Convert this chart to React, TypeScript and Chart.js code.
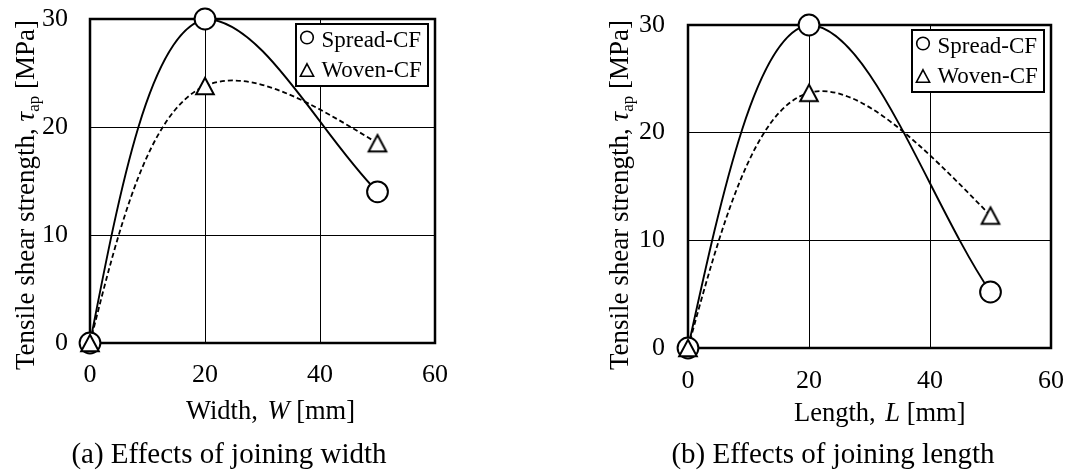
import React, { useEffect, useRef } from 'react';
import { Chart, registerables } from 'chart.js';

Chart.register(...registerables);

// ---------------- data ----------------
const xValues = [0, 20, 50];
const widthSpread = [0, 30, 14];
const widthWoven = [0, 23.8, 18.5];
const lengthSpread = [0, 30, 5.2];
const lengthWoven = [0, 23.7, 12.3];
const seriesNames = ['Spread-CF', 'Woven-CF'];
const xTickValues = [0, 20, 40, 60];
const yTickValues = [0, 10, 20, 30];
const xAxisNames = ['Width', 'Length'];
const xAxisSymbols = ['W', 'L'];
const panelCaptions = ['(a) Effects of joining width', '(b) Effects of joining length'];

// ---------------- styling / layout ----------------
const FONT = "'Liberation Serif', 'Times New Roman', serif";
const CW = 534;
const CH = 472;
const SOLID_ALPHA = 0.5;
const DASHED_ALPHA = 0.5;

type PanelCfg = {
  spread: number[];
  woven: number[];
  xName: string;
  xSym: string;
  caption: string;
  area: { left: number; top: number; right: number; bottom: number };
  yTickPad: number;
  xTickPad: number;
  yTitle: { x: number; y: number };
  xTitle: { x: number; y: number };
  captionPos: { cx: number; y: number };
};

const panels: PanelCfg[] = [
  {
    spread: widthSpread,
    woven: widthWoven,
    xName: xAxisNames[0],
    xSym: xAxisSymbols[0],
    caption: panelCaptions[0],
    area: { left: 90, top: 19, right: 435, bottom: 343 },
    yTickPad: 22,
    xTickPad: 17,
    yTitle: { x: 34, y: 370 },
    xTitle: { x: 186, y: 419 },
    captionPos: { cx: 229, y: 463 },
  },
  {
    spread: lengthSpread,
    woven: lengthWoven,
    xName: xAxisNames[1],
    xSym: xAxisSymbols[1],
    caption: panelCaptions[1],
    area: { left: 154, top: 25, right: 517, bottom: 348 },
    yTickPad: 23,
    xTickPad: 18,
    yTitle: { x: 94, y: 370 },
    xTitle: { x: 260, y: 421 },
    captionPos: { cx: 299, y: 463 },
  },
];

// ---------------- helpers ----------------
function makeTriangle(halfW: number, halfH: number, lw: number): HTMLCanvasElement {
  const c = document.createElement('canvas');
  const s = Math.ceil(2 * Math.max(halfW, halfH) + 4 * lw + 2);
  c.width = s;
  c.height = s;
  const g = c.getContext('2d')!;
  const cx = s / 2;
  const cy = s / 2;
  g.beginPath();
  g.moveTo(cx, cy - halfH);
  g.lineTo(cx + halfW, cy + halfH);
  g.lineTo(cx - halfW, cy + halfH);
  g.closePath();
  g.fillStyle = '#fff';
  g.fill();
  g.lineWidth = lw;
  g.lineJoin = 'miter';
  g.strokeStyle = '#000';
  g.stroke();
  return c;
}

// natural parametric cubic spline -> bezier control points
function naturalSplineControls(pts: { x: number; y: number }[], alpha: number) {
  const n = pts.length;
  const h: number[] = [];
  for (let i = 0; i < n - 1; i++) {
    const d = Math.hypot(pts[i + 1].x - pts[i].x, pts[i + 1].y - pts[i].y);
    h.push(Math.max(Math.pow(d, alpha), 1e-6));
  }
  const solve = (f: number[]) => {
    const M = new Array(n).fill(0);
    if (n < 3) return M;
    const m = n - 2;
    const a: number[] = [];
    const b: number[] = [];
    const c: number[] = [];
    const r: number[] = [];
    for (let k = 1; k <= n - 2; k++) {
      a.push(h[k - 1]);
      b.push(2 * (h[k - 1] + h[k]));
      c.push(h[k]);
      r.push(6 * ((f[k + 1] - f[k]) / h[k] - (f[k] - f[k - 1]) / h[k - 1]));
    }
    for (let i = 1; i < m; i++) {
      const w = a[i] / b[i - 1];
      b[i] -= w * c[i - 1];
      r[i] -= w * r[i - 1];
    }
    const sol = new Array(m).fill(0);
    sol[m - 1] = r[m - 1] / b[m - 1];
    for (let i = m - 2; i >= 0; i--) sol[i] = (r[i] - c[i] * sol[i + 1]) / b[i];
    for (let i = 0; i < m; i++) M[i + 1] = sol[i];
    return M;
  };
  const xs = pts.map((p) => p.x);
  const ys = pts.map((p) => p.y);
  const Mx = solve(xs);
  const My = solve(ys);
  const out = pts.map((p) => ({ cp1x: p.x, cp1y: p.y, cp2x: p.x, cp2y: p.y }));
  for (let i = 0; i < n - 1; i++) {
    const hi = h[i];
    const dx0 = (xs[i + 1] - xs[i]) / hi - (hi * (2 * Mx[i] + Mx[i + 1])) / 6;
    const dy0 = (ys[i + 1] - ys[i]) / hi - (hi * (2 * My[i] + My[i + 1])) / 6;
    const dx1 = (xs[i + 1] - xs[i]) / hi + (hi * (Mx[i] + 2 * Mx[i + 1])) / 6;
    const dy1 = (ys[i + 1] - ys[i]) / hi + (hi * (My[i] + 2 * My[i + 1])) / 6;
    out[i].cp2x = xs[i] + (dx0 * hi) / 3;
    out[i].cp2y = ys[i] + (dy0 * hi) / 3;
    out[i + 1].cp1x = xs[i + 1] - (dx1 * hi) / 3;
    out[i + 1].cp1y = ys[i + 1] - (dy1 * hi) / 3;
  }
  return out;
}

// after a local extremum, leave it horizontally (monotone-style descent)
function flattenAfterExtrema(
  pts: { x: number; y: number }[],
  cps: { cp1x: number; cp1y: number; cp2x: number; cp2y: number }[]
) {
  const n = pts.length;
  for (let i = 1; i < n - 1; i++) {
    const d0 = pts[i].y - pts[i - 1].y;
    const d1 = pts[i + 1].y - pts[i].y;
    if (d0 * d1 >= 0) continue;
    const dx = pts[i + 1].x - pts[i].x;
    cps[i].cp2x = pts[i].x + dx / 3;
    cps[i].cp2y = pts[i].y;
    if (i + 1 === n - 1) {
      const slope = d1 / dx;
      cps[i + 1].cp1x = pts[i + 1].x - dx / 3;
      cps[i + 1].cp1y = pts[i + 1].y - (slope * dx) / 3;
    }
  }
}

const splinePlugin = {
  id: 'naturalSpline',
  beforeDatasetDraw(chart: any, args: any) {
    const ds = chart.data.datasets[args.index];
    if (!ds || typeof ds.splineAlpha !== 'number') return;
    const line = args.meta.dataset;
    const pts = args.meta.data;
    if (!line || !pts || pts.length < 2) return;
    if (typeof line.updateControlPoints === 'function') {
      line.updateControlPoints(chart.chartArea, 'x');
    }
    const raw = pts.map((p: any) => ({ x: p.x, y: p.y }));
    const cps = naturalSplineControls(raw, ds.splineAlpha);
    if (ds.flatAfterPeak) flattenAfterExtrema(raw, cps);
    cps.forEach((c, i) => {
      pts[i].cp1x = c.cp1x;
      pts[i].cp1y = c.cp1y;
      pts[i].cp2x = c.cp2x;
      pts[i].cp2y = c.cp2y;
    });
    line._path = undefined;
  },
};

const framePlugin = {
  id: 'plotFrame',
  beforeDatasetsDraw(chart: any) {
    const { ctx, chartArea } = chart;
    ctx.save();
    ctx.strokeStyle = '#000';
    ctx.lineWidth = 2.5;
    ctx.strokeRect(
      chartArea.left,
      chartArea.top,
      chartArea.right - chartArea.left,
      chartArea.bottom - chartArea.top
    );
    ctx.restore();
  },
};

const legendPlugin = {
  id: 'boxLegend',
  afterDatasetsDraw(chart: any) {
    const { ctx, chartArea } = chart;
    const w = 132;
    const h = 62;
    const left = chartArea.right - 7 - w;
    const top = chartArea.top + 5;
    ctx.save();
    ctx.fillStyle = '#fff';
    ctx.fillRect(left, top, w, h);
    ctx.strokeStyle = '#000';
    ctx.lineWidth = 2;
    ctx.strokeRect(left, top, w, h);
    ctx.lineWidth = 1.6;
    ctx.beginPath();
    ctx.arc(left + 11, top + 13.5, 6.3, 0, Math.PI * 2);
    ctx.stroke();
    const tx = left + 11;
    const ty = top + 46;
    ctx.beginPath();
    ctx.moveTo(tx, ty - 6.2);
    ctx.lineTo(tx + 6.6, ty + 6.2);
    ctx.lineTo(tx - 6.6, ty + 6.2);
    ctx.closePath();
    ctx.stroke();
    ctx.fillStyle = '#000';
    ctx.font = `23px ${FONT}`;
    ctx.textBaseline = 'alphabetic';
    ctx.textAlign = 'left';
    ctx.fillText(seriesNames[0], left + 25.5, top + 23);
    ctx.fillText(seriesNames[1], left + 25.5, top + 52.7);
    ctx.restore();
  },
};

type Seg = { text: string; size: number; italic?: boolean; dy?: number; gap?: number };

function drawSegs(ctx: CanvasRenderingContext2D, segs: Seg[], x: number, y: number) {
  let cx = x;
  for (const s of segs) {
    ctx.font = `${s.italic ? 'italic ' : ''}${s.size}px ${FONT}`;
    ctx.fillText(s.text, cx, y + (s.dy || 0));
    cx += ctx.measureText(s.text).width + (s.gap || 0);
  }
  return cx - x;
}

function segsWidth(ctx: CanvasRenderingContext2D, segs: Seg[]) {
  let w = 0;
  for (const s of segs) {
    ctx.font = `${s.italic ? 'italic ' : ''}${s.size}px ${FONT}`;
    w += ctx.measureText(s.text).width + (s.gap || 0);
  }
  return w;
}

const textPlugin = {
  id: 'panelTexts',
  afterDraw(chart: any, _args: any, opts: any) {
    const cfg: PanelCfg = opts.cfg;
    if (!cfg) return;
    const ctx: CanvasRenderingContext2D = chart.ctx;
    ctx.save();
    ctx.fillStyle = '#000';
    ctx.textBaseline = 'alphabetic';
    ctx.textAlign = 'left';
    const ySegs: Seg[] = [
      { text: 'Tensile shear strength, ', size: 27 },
      { text: 'τ', size: 27, italic: true },
      { text: 'ap', size: 17, dy: 5 },
      { text: ' [MPa]', size: 27 },
    ];
    ctx.save();
    ctx.translate(cfg.yTitle.x, cfg.yTitle.y);
    ctx.rotate(-Math.PI / 2);
    drawSegs(ctx, ySegs, 0, 0);
    ctx.restore();
    const xSegs: Seg[] = [
      { text: cfg.xName + ', ', size: 26.5, gap: 3 },
      { text: cfg.xSym, size: 26.5, italic: true },
      { text: ' [mm]', size: 26.5 },
    ];
    drawSegs(ctx, xSegs, cfg.xTitle.x, cfg.xTitle.y);
    const cSegs: Seg[] = [{ text: cfg.caption, size: 29 }];
    const cw = segsWidth(ctx, cSegs);
    drawSegs(ctx, cSegs, cfg.captionPos.cx - cw / 2, cfg.captionPos.y);
    ctx.restore();
  },
};

function toPoints(ys: number[]) {
  return xValues.map((x, i) => ({ x, y: ys[i] }));
}

function Panel({ cfg, left }: { cfg: PanelCfg; left: number }) {
  const ref = useRef<HTMLCanvasElement>(null);
  useEffect(() => {
    const canvas = ref.current;
    if (!canvas) return;
    const tri = makeTriangle(8.8, 8.2, 2);
    const a = cfg.area;
    const xStep = xTickValues[1] - xTickValues[0];
    const yStep = yTickValues[1] - yTickValues[0];
    const xMin = xTickValues[0];
    const xMax = xTickValues[xTickValues.length - 1];
    const yMin = yTickValues[0];
    const yMax = yTickValues[yTickValues.length - 1];
    const chart = new Chart(canvas, {
      type: 'line',
      data: {
        datasets: [
          {
            label: seriesNames[1],
            data: toPoints(cfg.woven),
            showLine: false,
            pointStyle: tri as any,
            pointRadius: 10,
            pointBorderWidth: 2,
            pointBackgroundColor: '#fff',
            pointBorderColor: '#000',
            clip: false as any,
          },
          {
            label: seriesNames[0],
            data: toPoints(cfg.spread),
            showLine: false,
            pointStyle: 'circle',
            pointRadius: 10.4,
            pointBorderWidth: 2,
            pointBackgroundColor: '#fff',
            pointBorderColor: '#000',
            clip: false as any,
          },
          {
            label: seriesNames[0] + ' curve',
            data: toPoints(cfg.spread),
            borderColor: '#000',
            borderWidth: 1.9,
            pointRadius: 0,
            tension: 0.4,
            fill: false,
            splineAlpha: SOLID_ALPHA,
            flatAfterPeak: true,
          } as any,
          {
            label: seriesNames[1] + ' curve',
            data: toPoints(cfg.woven),
            borderColor: '#000',
            borderWidth: 1.8,
            borderDash: [5, 3],
            pointRadius: 0,
            tension: 0.4,
            fill: false,
            splineAlpha: DASHED_ALPHA,
          } as any,
        ],
      },
      options: {
        responsive: false,
        maintainAspectRatio: false,
        animation: false,
        devicePixelRatio: 1,
        events: [],
        layout: {
          padding: { left: 0, top: a.top, right: CW - a.right, bottom: 0 },
        },
        plugins: {
          legend: { display: false },
          tooltip: { enabled: false },
          panelTexts: { cfg } as any,
        } as any,
        scales: {
          x: {
            type: 'linear',
            min: xMin,
            max: xMax,
            afterFit: (s: any) => {
              s.height = CH - a.bottom;
              s.paddingLeft = 0;
              s.paddingRight = 0;
              s.paddingTop = 0;
              s.paddingBottom = 0;
            },
            ticks: {
              stepSize: xStep,
              color: '#000',
              padding: cfg.xTickPad,
              maxRotation: 0,
              font: { family: FONT, size: 26 },
            },
            grid: {
              drawTicks: false,
              color: (c: any) =>
                c.tick && (c.tick.value === xMin || c.tick.value === xMax) ? 'rgba(0,0,0,0)' : '#000',
              lineWidth: 1,
            },
            border: { display: false },
          },
          y: {
            type: 'linear',
            min: yMin,
            max: yMax,
            afterFit: (s: any) => {
              s.width = a.left;
              s.paddingLeft = 0;
              s.paddingRight = 0;
              s.paddingTop = 0;
              s.paddingBottom = 0;
            },
            ticks: {
              stepSize: yStep,
              color: '#000',
              padding: cfg.yTickPad,
              font: { family: FONT, size: 26 },
            },
            grid: {
              drawTicks: false,
              color: (c: any) =>
                c.tick && (c.tick.value === yMin || c.tick.value === yMax) ? 'rgba(0,0,0,0)' : '#000',
              lineWidth: 1,
            },
            border: { display: false },
          },
        },
      },
      plugins: [splinePlugin, framePlugin, legendPlugin, textPlugin],
    });
    return () => chart.destroy();
  }, [cfg]);
  return (
    <canvas
      ref={ref}
      width={CW}
      height={CH}
      style={{ position: 'absolute', left, top: 0, width: CW, height: CH }}
    />
  );
}

export default function App() {
  return (
    <div
      style={{
        position: 'fixed',
        left: 0,
        top: 0,
        width: CW * 2,
        height: CH,
        background: '#fff',
        overflow: 'hidden',
      }}
    >
      <Panel cfg={panels[0]} left={0} />
      <Panel cfg={panels[1]} left={CW} />
    </div>
  );
}
